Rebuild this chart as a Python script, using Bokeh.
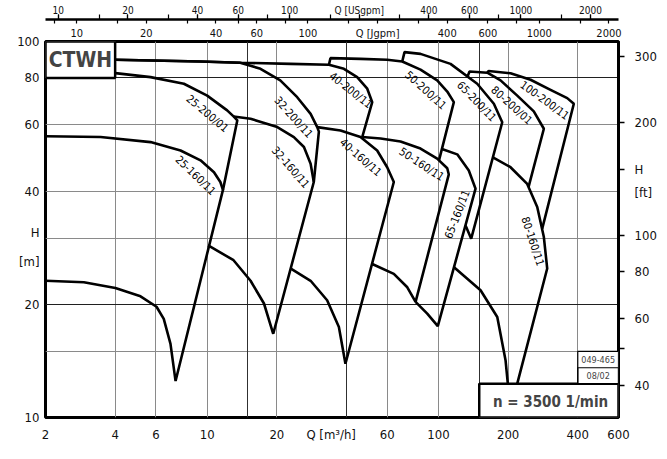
from bokeh.plotting import figure
from bokeh.models import (Range1d, LogScale, LogAxis, LinearAxis, FixedTicker,
                          NumeralTickFormatter, CustomJSTickFormatter, Grid,
                          BoxAnnotation, Label)
from bokeh.core.properties import value
from bokeh.embed import file_html
from bokeh.resources import INLINE

FONT = "DejaVu Sans Condensed"

# unit conversions
M3H_PER_USGPM = 0.227125
M3H_PER_IGPM = 0.272765
M_PER_FT = 0.3048

Q_RANGE = (2, 600)
H_RANGE = (10, 100)

# axis ticks
Q_TICKS = [2, 4, 6, 10, 20, 60, 100, 200, 400, 600]
Q_TITLE_AT = 35
H_TICKS = [10, 20, 40, 60, 80, 100]
H_TITLE_AT = 31
H_UNIT_AT = 26
FT_TICKS = [40, 60, 80, 100, 200, 300]
FT_MARKS = [40, 50, 60, 80, 100, 150, 200, 300]
FT_TITLE_AT = 150
FT_UNIT_AT = 130
US_TICKS = [10, 20, 40, 60, 100, 200, 400, 600, 1000, 2000]
US_MARKS = [10, 15, 20, 30, 40, 60, 80, 100, 150, 200, 300, 400, 600, 800, 1000, 1500, 2000]
US_TITLE_AT = 200
IMP_TICKS = [10, 20, 40, 60, 100, 200, 400, 600, 1000, 2000]
IMP_MARKS = [8, 10, 15, 20, 30, 40, 50, 60, 80, 100, 150, 200, 300, 400, 600, 800, 1000, 1500, 2000]
IMP_TITLE_AT = 200
GRID_Q = [4, 6, 10, 20, 60, 100, 200, 400]
GRID_Q_DARK = [15, 40, 150]
GRID_H = [15, 30, 40, 60]
GRID_H_DARK = [20, 80]

# pump curves: Q [m3/h], H [m]
Q_25_160 = [2.0, 2.93, 4.01, 5.15, 6.04, 6.49, 6.94, 7.30, 11.7, 11.4, 10.7, 9.36, 7.67, 5.69, 3.46, 2.0]
H_25_160 = [23.1, 22.9, 22.1, 21.0, 19.7, 18.3, 15.7, 12.5, 40.3, 42.3, 44.9, 48.3, 51.3, 54.0, 55.7, 56.0]
Q_25_200 = [2.0, 4.01, 5.69, 7.93, 10.0, 12.2, 13.0, 13.5, 11.7]
H_25_200 = [83.5, 82.4, 80.4, 77.2, 71.8, 65.6, 63.2, 61.7, 40.3]
Q_32_160 = [10.1, 13.0, 15.4, 17.6, 19.3, 28.9, 28.0, 26.2, 23.7, 20.1, 15.4, 13.0]
H_32_160 = [28.7, 26.2, 23.1, 20.1, 16.7, 42.3, 47.3, 52.4, 55.7, 59.2, 62.3, 63.2]
Q_32_200 = [2.0, 4.01, 9.36, 13.9, 17.0, 20.7, 24.5, 28.0, 29.9, 30.4, 28.9]
H_32_200 = [89.8, 89.4, 88.5, 87.8, 84.6, 78.8, 71.1, 64.2, 59.2, 57.6, 42.3]
Q_40_160 = [23.0, 28.0, 33.0, 37.1, 39.6, 64.1, 60.0, 54.3, 46.0, 37.7, 29.9]
H_40_160 = [24.9, 23.1, 20.5, 17.4, 13.9, 42.3, 46.3, 51.3, 55.7, 58.0, 59.2]
Q_40_200 = [2.0, 4.01, 9.36, 13.9, 22.9, 33.6, 39.0, 44.5, 49.2, 51.7, 46.8]
H_40_200 = [89.8, 89.4, 88.5, 87.8, 87.2, 86.7, 84.6, 80.4, 74.9, 69.0, 55.7]
Q_50_160 = [51.7, 64.1, 73.3, 79.6, 110.8, 109.1, 98.7, 83.6, 68.5, 56.2, 46.8]
H_50_160 = [25.6, 24.1, 22.2, 20.3, 44.3, 46.0, 48.8, 51.9, 54.2, 55.2, 55.7]
Q_50_200 = [33.6, 34.1, 46.0, 60.0, 69.7, 83.6, 98.7, 109.1, 116.5, 100.5]
H_50_200 = [86.7, 90.3, 89.9, 89.4, 88.5, 84.2, 78.8, 73.6, 69.0, 48.3]
Q_65_160 = [79.6, 89.4, 99.3, 144.6, 135.2, 120.5, 103.5]
H_65_160 = [20.3, 18.9, 17.5, 40.6, 45.4, 50.1, 51.8]
Q_65_200 = [69.7, 71.3, 83.6, 112.7, 147.0, 173.5, 188.6, 138.5, 130.9]
H_65_200 = [88.5, 93.7, 92.7, 87.2, 77.2, 68.3, 61.0, 29.9, 32.4]
Q_80_160 = [116.7, 152.0, 179.5, 194.9, 199.4, 204.8, 219.0, 295.1, 285.4, 267.2, 241.8, 204.8, 171.9]
H_80_160 = [25.1, 21.8, 18.5, 14.2, 12.3, 10.5, 12.3, 24.9, 30.2, 36.3, 41.8, 46.3, 49.2]
Q_80_200 = [133.5, 136.2, 162.5, 185.5, 219.0, 258.2, 285.4, 245.0]
H_80_200 = [80.7, 83.2, 82.6, 78.8, 71.8, 65.2, 58.6, 41.0]
Q_100_200 = [162.5, 164.6, 204.8, 250.0, 305.0, 360.2, 384.6, 280.8]
H_100_200 = [82.6, 83.5, 82.3, 79.1, 74.4, 70.7, 68.3, 31.8]

CURVES = [(Q_25_160, H_25_160), (Q_25_200, H_25_200), (Q_32_160, H_32_160),
          (Q_32_200, H_32_200), (Q_40_160, H_40_160), (Q_40_200, H_40_200),
          (Q_50_160, H_50_160), (Q_50_200, H_50_200), (Q_65_160, H_65_160),
          (Q_65_200, H_65_200), (Q_80_160, H_80_160), (Q_80_200, H_80_200),
          (Q_100_200, H_100_200)]

# curve names
LABEL_TEXT = ["25-200/01", "25-160/11", "32-200/11", "32-160/11", "40-200/11", "40-160/11",
              "50-200/11", "50-160/11", "65-200/11", "65-160/11", "80-200/01", "80-160/11",
              "100-200/11"]
LABEL_Q = [10.0, 8.9, 23.6, 22.9, 41.7, 46.0, 87.9, 84.4, 146.0, 120.8, 206.9, 255.0, 287.5]
LABEL_H = [64.3, 44.0, 62.8, 46.2, 74.1, 49.1, 74.1, 47.1, 69.2, 34.7, 67.6, 29.4, 69.7]
LABEL_ANGLE = [-40, -44, -48, -49, -38, -41, -42, -33, -46, 69, -42, -72, -36]

p = figure(width=660, height=445, x_axis_type="log", y_axis_type="log",
           x_range=Range1d(*Q_RANGE), y_range=Range1d(*H_RANGE),
           output_backend="svg", toolbar_location=None,
           min_border_left=45, min_border_right=42, min_border_top=41, min_border_bottom=28,
           background_fill_color="white", border_fill_color="white")
p.outline_line_color = "black"
p.outline_line_width = 3

p.extra_x_ranges = {"us": Range1d(Q_RANGE[0] / M3H_PER_USGPM, Q_RANGE[1] / M3H_PER_USGPM),
                    "imp": Range1d(Q_RANGE[0] / M3H_PER_IGPM, Q_RANGE[1] / M3H_PER_IGPM)}
p.extra_x_scales = {"us": LogScale(), "imp": LogScale()}
p.extra_y_ranges = {"ft": Range1d(H_RANGE[0] / M_PER_FT, H_RANGE[1] / M_PER_FT)}
p.extra_y_scales = {"ft": LogScale()}

p.xgrid.ticker = FixedTicker(ticks=GRID_Q)
p.ygrid.ticker = FixedTicker(ticks=GRID_H)
p.grid.grid_line_color = "#8a8a8a"
p.grid.grid_line_width = 1
p.add_layout(Grid(dimension=0, ticker=FixedTicker(ticks=GRID_Q_DARK),
                  grid_line_color="#303030", grid_line_width=1))
p.add_layout(Grid(dimension=1, ticker=FixedTicker(ticks=GRID_H_DARK),
                  grid_line_color="#202020", grid_line_width=1.2))


def style_axis(ax, size):
    ax.major_label_text_font = FONT
    ax.major_label_text_font_size = size
    ax.major_label_text_color = "#111111"
    ax.minor_tick_out = 0
    ax.minor_tick_in = 0
    ax.minor_tick_line_color = None
    ax.major_tick_in = 0


xa = p.below[0]
xa.ticker = FixedTicker(ticks=Q_TICKS + [Q_TITLE_AT])
xa.formatter = NumeralTickFormatter(format="0")
xa.major_label_overrides = {Q_TITLE_AT: "Q  [m³/h]"}
style_axis(xa, "13px")
xa.axis_line_color = None
xa.major_tick_out = 0
xa.major_tick_line_color = None
xa.major_label_standoff = 9

ya = p.left[0]
ya.ticker = FixedTicker(ticks=H_TICKS + [H_UNIT_AT, H_TITLE_AT])
ya.formatter = NumeralTickFormatter(format="0")
ya.major_label_overrides = {H_UNIT_AT: "[m]", H_TITLE_AT: "H"}
style_axis(ya, "13px")
ya.axis_line_color = None
ya.major_tick_out = 0
ya.major_tick_line_color = None
ya.major_label_standoff = 6

# right: spacer + ft axis
spacer = LinearAxis(ticker=FixedTicker(ticks=[]), axis_line_color=None,
                    major_tick_out=7, major_tick_in=0, major_tick_line_color=None,
                    minor_tick_out=0, minor_tick_in=0, major_label_standoff=0,
                    major_label_text_font_size="0px")
p.add_layout(spacer, "right")
fa = LogAxis(y_range_name="ft",
             ticker=FixedTicker(ticks=FT_TICKS + [FT_UNIT_AT, FT_TITLE_AT], minor_ticks=FT_MARKS),
             formatter=NumeralTickFormatter(format="0"))
fa.major_label_overrides = {FT_UNIT_AT: "[ft]", FT_TITLE_AT: "H"}
fa.major_label_text_font = FONT
fa.major_label_text_font_size = "13px"
fa.major_label_text_color = "#111111"
fa.axis_line_width = 3
fa.major_tick_out = 0
fa.major_tick_in = 0
fa.major_tick_line_color = None
fa.minor_tick_out = 6
fa.minor_tick_in = 0
fa.minor_tick_line_width = 1.5
fa.minor_tick_line_color = "black"
fa.major_label_standoff = 10
p.add_layout(fa, "right")

# top: Igpm labels, Igpm marks, USgpm axis
ax_ig = LogAxis(x_range_name="imp", ticker=FixedTicker(ticks=IMP_TICKS),
                formatter=NumeralTickFormatter(format="0"))
ax_ig.major_label_overrides = {IMP_TITLE_AT: "Q [Jgpm]"}
style_axis(ax_ig, "11px")
ax_ig.axis_line_color = None
ax_ig.major_tick_out = 0
ax_ig.major_tick_line_color = None
ax_ig.major_label_standoff = 2
p.add_layout(ax_ig, "above")

ax_igt = LogAxis(x_range_name="imp", ticker=FixedTicker(ticks=IMP_MARKS),
                 formatter=CustomJSTickFormatter(code="return ''"))
style_axis(ax_igt, "0px")
ax_igt.axis_line_color = None
ax_igt.major_tick_out = 4
ax_igt.major_tick_line_width = 1.2
ax_igt.major_label_standoff = 0
p.add_layout(ax_igt, "above")

ax_us = LogAxis(x_range_name="us",
                ticker=FixedTicker(ticks=US_TICKS, minor_ticks=US_MARKS),
                formatter=NumeralTickFormatter(format="0"))
ax_us.major_label_overrides = {US_TITLE_AT: "Q [USgpm]"}
style_axis(ax_us, "10px")
ax_us.axis_line_width = 2.5
ax_us.major_tick_out = 5
ax_us.major_tick_line_width = 1.2
ax_us.minor_tick_out = 5
ax_us.minor_tick_line_color = "black"
ax_us.minor_tick_line_width = 1.2
ax_us.major_label_standoff = -1
p.add_layout(ax_us, "above")

# pump curves
for qs, hs in CURVES:
    p.line(qs, hs, line_color="black", line_width=2.6)

p.text(x=LABEL_Q, y=LABEL_H, text=LABEL_TEXT, angle=LABEL_ANGLE, angle_units="deg",
       text_font=value(FONT), text_font_size="11px", text_align="center",
       text_baseline="middle", text_color="black")

# boxes
p.add_layout(BoxAnnotation(left=2, right=4, bottom=80, top=100, fill_color="white",
                           fill_alpha=1, line_color="black", line_width=2.5, line_alpha=1))
p.add_layout(Label(x=2.83, y=89.5, text="CTWH", text_font=FONT, text_font_style="bold",
                   text_font_size="21px", text_align="center", text_baseline="middle"))

p.add_layout(BoxAnnotation(left=150, right=600, bottom=10, top=12.3, fill_color="white",
                           fill_alpha=1, line_color="black", line_width=2.5, line_alpha=1))
p.add_layout(Label(x=305, y=11.0, text="n = 3500 1/min", text_font=FONT,
                   text_font_style="bold", text_font_size="15px", text_align="center",
                   text_baseline="middle"))

p.add_layout(BoxAnnotation(left=400, right=600, bottom=12.3, top=15, fill_color="white",
                           fill_alpha=1, line_color="black", line_width=1.2, line_alpha=1))
p.add_layout(BoxAnnotation(left=400, right=600, bottom=12.3, top=13.56, fill_alpha=0,
                           line_color="black", line_width=1.2, line_alpha=1))
p.add_layout(Label(x=490, y=14.26, text="049-465", text_font=FONT, text_font_size="9px",
                   text_align="center", text_baseline="middle"))
p.add_layout(Label(x=490, y=12.9, text="08/02", text_font=FONT, text_font_size="9px",
                   text_align="center", text_baseline="middle"))

open("out.html", "w").write(file_html(p, INLINE))
